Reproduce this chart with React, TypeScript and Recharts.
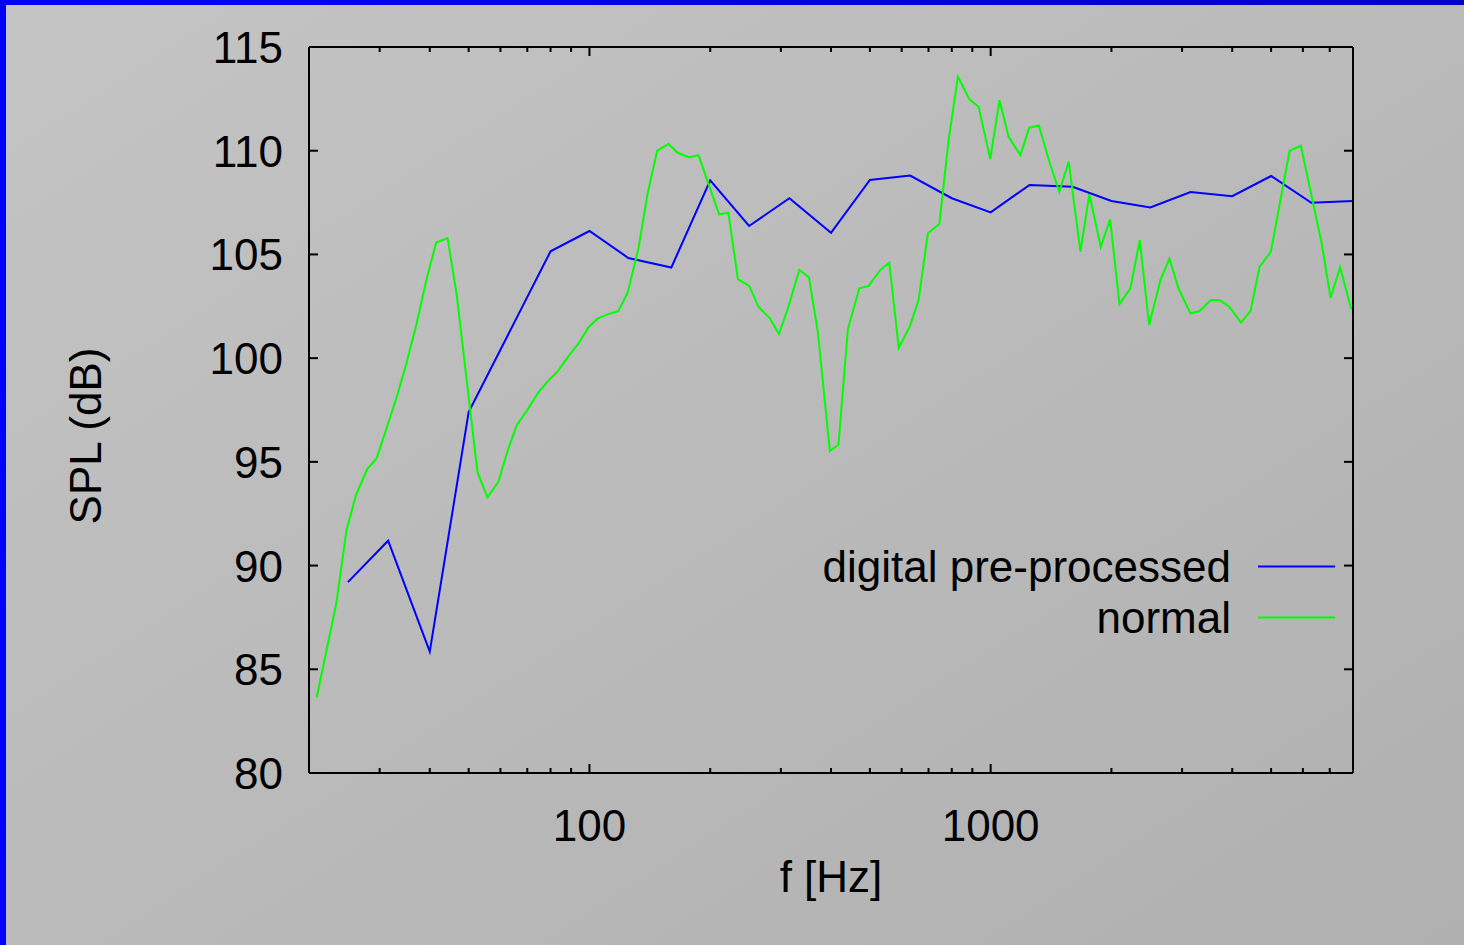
import React from 'react';
import { LineChart, Line, XAxis, YAxis, Legend } from 'recharts';

// ---- data ----
const digitalFreq = [25, 31.5, 40, 50, 80, 100, 125, 160, 200, 250, 315, 400, 500, 630, 800, 1000, 1250, 1600, 2000, 2500, 3150, 4000, 5000, 6300, 8000];
const digitalSPL = [89.2, 91.2, 85.85, 97.4, 105.15, 106.13, 104.83, 104.37, 108.57, 106.37, 107.71, 106.04, 108.59, 108.8, 107.71, 107.03, 108.35, 108.26, 107.58, 107.26, 108.01, 107.81, 108.78, 107.49, 107.57];

const normalFreq = [20.9, 23.4, 24.8, 26.2, 27.9, 29.5, 31.3, 33.1, 34.9, 37.1, 39.4, 41.5, 44.3, 46.7, 52.6, 55.7, 59.3, 62.6, 65.9, 70.2, 74.3, 78.3, 83.4, 88.7, 94.2, 99.4, 105, 111, 118, 124.6, 132.5, 139.7, 147.5, 157.4, 166, 177.3, 187, 210.5, 222, 234.4, 250.2, 263.8, 281.6, 296.7, 312.4, 333.5, 352.5, 370.9, 397.4, 417.6, 440.6, 470.6, 496.6, 530.9, 558.9, 590.2, 628.4, 661.3, 697.6, 744.9, 785.8, 828.6, 885, 933.3, 997.8, 1052, 1108, 1186, 1248, 1318, 1409, 1483, 1565, 1674, 1762, 1881, 1985, 2095, 2230, 2353, 2483, 2650, 2790, 2944, 3148, 3312, 3540, 3715, 3935, 4207, 4443, 4681, 4993, 5560, 5932, 6684, 7033, 7430, 7925];
const normalSPL = [83.64, 88.18, 91.71, 93.4, 94.64, 95.18, 96.69, 98.14, 99.67, 101.68, 103.93, 105.57, 105.79, 103.04, 94.5, 93.29, 94.04, 95.57, 96.77, 97.53, 98.3, 98.83, 99.38, 100.1, 100.74, 101.48, 101.92, 102.11, 102.26, 103.17, 105.29, 107.95, 110.0, 110.32, 109.9, 109.68, 109.79, 106.93, 107.01, 103.81, 103.48, 102.48, 101.92, 101.16, 102.4, 104.25, 103.9, 101.27, 95.52, 95.84, 101.39, 103.37, 103.48, 104.25, 104.6, 100.5, 101.51, 102.8, 106.02, 106.47, 110.52, 113.57, 112.48, 112.12, 109.59, 112.44, 110.68, 109.79, 111.11, 111.22, 109.31, 108.02, 109.47, 105.13, 107.91, 105.37, 106.69, 102.61, 103.37, 105.69, 101.6, 103.77, 104.79, 103.32, 102.16, 102.26, 102.8, 102.8, 102.48, 101.71, 102.27, 104.41, 105.13, 110.0, 110.24, 105.53, 102.91, 104.38, 102.35];

const xTickValues = [20, 30, 40, 50, 60, 70, 80, 90, 100, 200, 300, 400, 500, 600, 700, 800, 900, 1000, 2000, 3000, 4000, 5000, 6000, 7000, 8000];
const xLabeledTicks = [100, 1000];
const yTickValues = [80, 85, 90, 95, 100, 105, 110, 115];

const xTitle = 'f [Hz]';
const yTitle = 'SPL (dB)';
const seriesNames = ['digital pre-processed', 'normal'];
const seriesColors = ['#0000ff', '#00ff00'];

const digitalData = digitalFreq.map((f, i) => ({ f, v: digitalSPL[i] }));
const normalData = normalFreq.map((f, i) => ({ f, v: normalSPL[i] }));

const FONT = '"Liberation Sans", Arial, Helvetica, sans-serif';
const FS = 44;

const BottomTick = (p: any) => {
  const val = p.payload.value;
  const major = xLabeledTicks.includes(val);
  return (
    <g>
      <line x1={p.x} x2={p.x} y1={p.y} y2={p.y - (major ? 9 : 5)} stroke="#000" strokeWidth={2} />
      {major && (
        <text x={p.x} y={p.y + 68} textAnchor="middle" fontFamily={FONT} fontSize={FS} fill="#000">
          {val}
        </text>
      )}
    </g>
  );
};

const TopTick = (p: any) => {
  const val = p.payload.value;
  const major = xLabeledTicks.includes(val);
  return <line x1={p.x} x2={p.x} y1={p.y} y2={p.y + (major ? 9 : 5)} stroke="#000" strokeWidth={2} />;
};

const LeftTick = (p: any) => (
  <g>
    <line x1={p.x} x2={p.x + 9} y1={p.y} y2={p.y} stroke="#000" strokeWidth={2} />
    <text x={p.x - 26} y={p.y + 16} textAnchor="end" fontFamily={FONT} fontSize={FS} fill="#000">
      {p.payload.value}
    </text>
  </g>
);

const RightTick = (p: any) => (
  <line x1={p.x} x2={p.x - 9} y1={p.y} y2={p.y} stroke="#000" strokeWidth={2} />
);

const LegendContent = (props: any) => {
  const payload = props.payload || [];
  return (
    <div style={{ width: 635, fontFamily: FONT, fontSize: FS }}>
      {payload.map((e: any) => (
        <div
          key={e.value}
          style={{ display: 'flex', justifyContent: 'flex-end', alignItems: 'center', height: 51, lineHeight: '51px' }}
        >
          <span style={{ color: '#000', whiteSpace: 'nowrap' }}>{e.value}</span>
          <svg width={104} height={51} style={{ display: 'block' }}>
            <line x1={27} x2={104} y1={25.5} y2={25.5} stroke={e.color} strokeWidth={2} />
          </svg>
        </div>
      ))}
    </div>
  );
};

export default function App() {
  return (
    <div
      style={{
        position: 'fixed',
        left: 0,
        top: 0,
        width: 1464,
        height: 945,
        background: 'linear-gradient(to bottom right, #c4c4c4, #b0b0b0)',
        overflow: 'hidden',
      }}
    >
      <div style={{ position: 'absolute', left: 0, top: 0, width: 1464, height: 5, background: 'linear-gradient(to right, #0000ff, #0000c8)' }} />
      <div style={{ position: 'absolute', left: 0, top: 0, width: 6, height: 945, background: '#0000ff' }} />
      <div style={{ position: 'absolute', left: 0, top: 0 }}>
        <LineChart width={1464} height={945} margin={{ top: 46, right: 110, bottom: 0, left: 0 }}>
          <XAxis
            xAxisId="b"
            type="number"
            dataKey="f"
            scale="log"
            domain={[20, 8000]}
            allowDataOverflow
            ticks={xTickValues}
            interval={0}
            tickSize={0}
            tickMargin={0}
            tickLine={false}
            tick={(p: any) => <BottomTick {...p} />}
            axisLine={{ stroke: '#000', strokeWidth: 2 }}
            height={172}
            label={{
              content: (lp: any) => {
                const vb = lp.viewBox;
                return (
                  <text x={vb.x + vb.width / 2} y={vb.y + 119} textAnchor="middle" fontFamily={FONT} fontSize={FS} fill="#000">
                    {xTitle}
                  </text>
                );
              },
            }}
          />
          <XAxis
            xAxisId="t"
            orientation="top"
            type="number"
            dataKey="f"
            scale="log"
            domain={[20, 8000]}
            allowDataOverflow
            ticks={xTickValues}
            interval={0}
            tickSize={0}
            tickMargin={0}
            tickLine={false}
            tick={(p: any) => <TopTick {...p} />}
            axisLine={{ stroke: '#000', strokeWidth: 2 }}
            height={1}
          />
          <YAxis
            yAxisId="l"
            type="number"
            domain={[80, 115]}
            allowDataOverflow
            ticks={yTickValues}
            interval={0}
            tickSize={0}
            tickMargin={0}
            tickLine={false}
            tick={(p: any) => <LeftTick {...p} />}
            axisLine={{ stroke: '#000', strokeWidth: 2 }}
            width={309}
            label={{
              content: (lp: any) => {
                const vb = lp.viewBox;
                const cx = 101;
                const cy = vb.y + vb.height / 2 + 26;
                return (
                  <text x={cx} y={cy} transform={`rotate(-90, ${cx}, ${cy})`} textAnchor="middle" fontFamily={FONT} fontSize={FS} fill="#000">
                    {yTitle}
                  </text>
                );
              },
            }}
          />
          <YAxis
            yAxisId="r"
            orientation="right"
            type="number"
            domain={[80, 115]}
            allowDataOverflow
            ticks={yTickValues}
            interval={0}
            tickSize={0}
            tickMargin={0}
            tickLine={false}
            tick={(p: any) => <RightTick {...p} />}
            axisLine={{ stroke: '#000', strokeWidth: 2 }}
            width={1}
          />
          <Legend
            layout="vertical"
            align="center"
            verticalAlign="middle"
            wrapperStyle={{ position: 'absolute', left: 700, top: 541, width: 635 }}
            content={(p: any) => <LegendContent {...p} />}
          />
          <Line
            data={digitalData}
            xAxisId="b"
            yAxisId="l"
            dataKey="v"
            name={seriesNames[0]}
            stroke={seriesColors[0]}
            strokeWidth={2}
            dot={false}
            activeDot={false}
            type="linear"
            isAnimationActive={false}
          />
          <Line
            data={normalData}
            xAxisId="b"
            yAxisId="l"
            dataKey="v"
            name={seriesNames[1]}
            stroke={seriesColors[1]}
            strokeWidth={2}
            dot={false}
            activeDot={false}
            type="linear"
            isAnimationActive={false}
          />
        </LineChart>
      </div>
    </div>
  );
}
